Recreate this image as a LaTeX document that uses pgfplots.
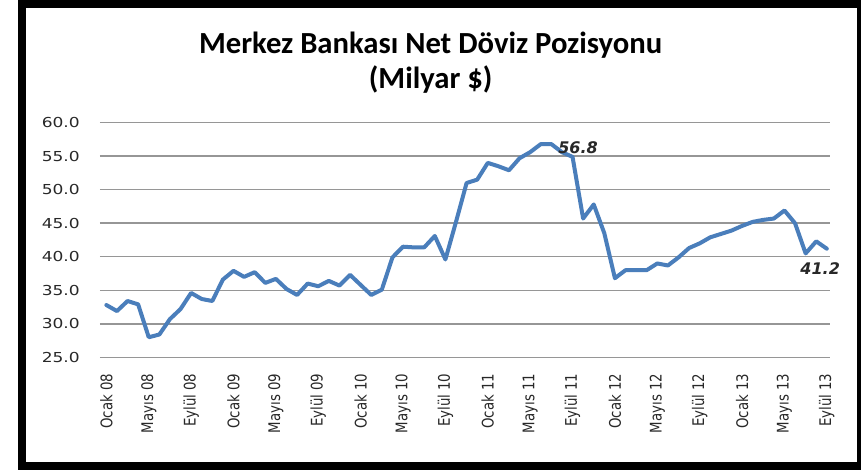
\documentclass[border=0pt]{standalone}
\usepackage{pgfplots}
\pgfplotsset{compat=1.18}
\usepackage{fontspec}
\setmainfont{DejaVu Sans}
\newfontfamily\titlefont{Carlito}
\definecolor{lineblue}{RGB}{74,126,187}
\definecolor{gridgray}{RGB}{150,150,150}
\definecolor{lbl}{RGB}{40,40,40}
\newcommand\sx[1]{\scalebox{1}[1.2]{#1}}
\pgfplotstableread{
i v
0 32.8
1 31.9
2 33.4
3 32.9
4 28.0
5 28.4
6 30.7
7 32.2
8 34.6
9 33.7
10 33.4
11 36.6
12 37.9
13 37.0
14 37.7
15 36.1
16 36.7
17 35.2
18 34.3
19 36.0
20 35.6
21 36.4
22 35.7
23 37.3
24 35.8
25 34.3
26 35.1
27 39.9
28 41.5
29 41.4
30 41.4
31 43.1
32 39.6
33 45.2
34 51.0
35 51.5
36 54.0
37 53.5
38 52.9
39 54.7
40 55.6
41 56.8
42 56.8
43 55.6
44 54.9
45 45.7
46 47.8
47 43.5
48 36.8
49 38.0
50 38.0
51 38.0
52 39.0
53 38.7
54 39.9
55 41.3
56 42.0
57 42.9
58 43.4
59 43.9
60 44.6
61 45.2
62 45.5
63 45.7
64 46.9
65 45.0
66 40.5
67 42.3
68 41.2
}\datatable
\begin{document}
\begin{tikzpicture}
\path[use as bounding box, fill=white] (0,0) rectangle (645.75pt,352.5pt);
\begin{axis}[
  at={(75pt,84.5pt)}, anchor=south west,
  scale only axis, width=547.5pt, height=176pt,
  xmin=-0.6, xmax=68.3, ymin=25, ymax=60,
  axis line style={draw=none},
  ytick={25,30,...,60},
  ymajorgrids, grid style={gridgray, line width=1.1pt},
  major tick length=0pt,
  /pgf/number format/assume math mode=true,
  xtick={0,4,...,68},
  xticklabels={{\sx{Ocak 08}},{\sx{Mayıs 08}},{\sx{Eylül 08}},{\sx{Ocak 09}},{\sx{Mayıs 09}},{\sx{Eylül 09}},{\sx{Ocak 10}},{\sx{Mayıs 10}},{\sx{Eylül 10}},{\sx{Ocak 11}},{\sx{Mayıs 11}},{\sx{Eylül 11}},{\sx{Ocak 12}},{\sx{Mayıs 12}},{\sx{Eylül 12}},{\sx{Ocak 13}},{\sx{Mayıs 13}},{\sx{Eylül 13}}},
  xticklabel style={rotate=90, anchor=east, inner sep=0pt, text=lbl, font=\fontsize{10}{12}\selectfont},
  xticklabel shift=12pt,
  yticklabel={\scalebox{1.24}[1]{\pgfmathprintnumber[fixed,fixed zerofill,precision=1,assume math mode=true]{\tick}}},
  yticklabel style={anchor=east, inner sep=0pt, text=lbl, font=\fontsize{10.3}{12}\selectfont},
  yticklabel shift=15pt,
  clip=false,
]
\addplot[lineblue, line width=3pt, line join=round, line cap=round, mark=none] table[x=i, y=v] {\datatable};
\node[anchor=west, inner sep=0pt, font=\bfseries\itshape\fontsize{12}{14}\selectfont, text=lbl] at (axis cs:42,56.8) [xshift=5pt, yshift=-2.5pt] {56.8};
\node[anchor=north east, inner sep=0pt, font=\bfseries\itshape\fontsize{12}{14}\selectfont, text=lbl] at (axis cs:68,41.2) [xshift=10pt, yshift=-10pt] {41.2};
\end{axis}
\node[font=\titlefont\bfseries\fontsize{23}{26}\selectfont, align=center, text=black] at (323pt,305.6pt) {Merkez Bankası Net Döviz Pozisyonu\\(Milyar \$)};
\draw[black, line width=6pt] (16.5pt,3pt) rectangle (645.75pt,349.5pt);
\end{tikzpicture}
\end{document}
